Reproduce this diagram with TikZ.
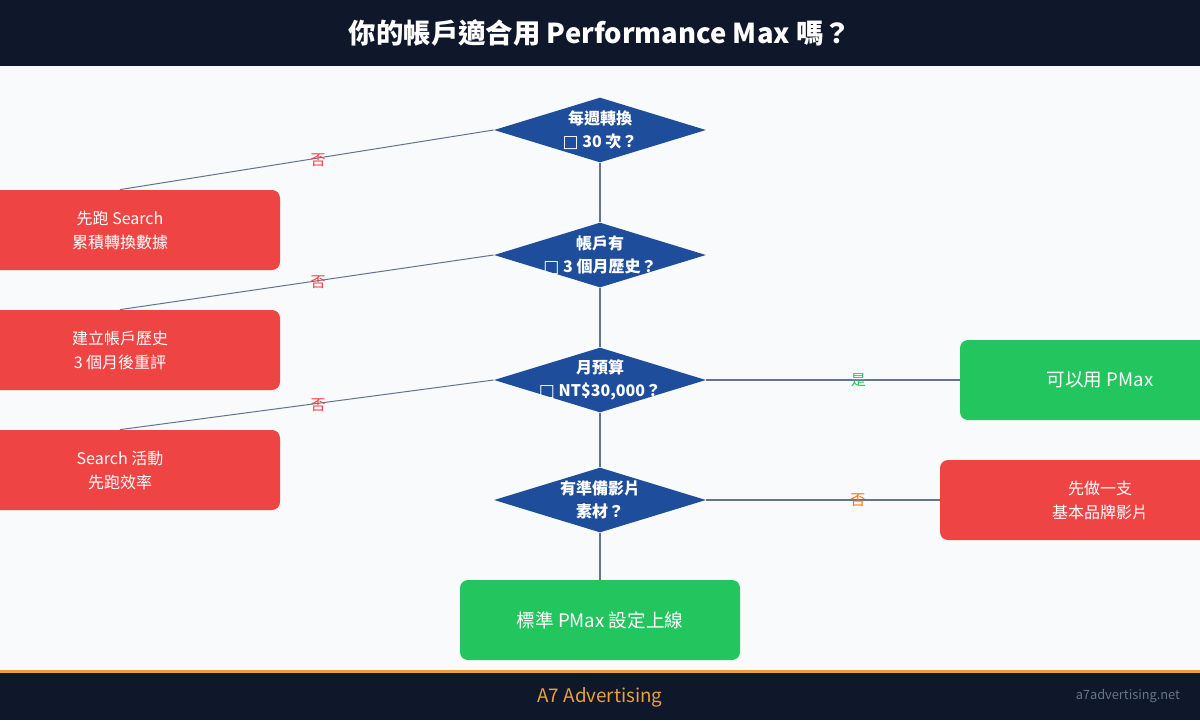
\documentclass[tikz,border=0pt]{standalone}
\usepackage{fontspec}
\setmainfont{Noto Sans CJK TC}
\newfontfamily\symfont{DejaVu Sans}
\usetikzlibrary{shapes.geometric, positioning}

\definecolor{navy}{HTML}{0F172A}
\definecolor{paper}{HTML}{F8FAFC}
\definecolor{qblue}{HTML}{1E4D9B}
\definecolor{nored}{HTML}{EF4444}
\definecolor{yesgreen}{HTML}{22C55E}
\definecolor{linegray}{HTML}{64748B}
\definecolor{gold}{HTML}{E9A23B}
\definecolor{tagorange}{HTML}{F97316}

\newcommand{\tofu}{{\symfont\fontsize{8.5}{8.5}\selectfont □}}

\begin{document}
\begin{tikzpicture}[x=0.5pt, y=-0.5pt,
    decision/.style={diamond, fill=qblue, inner sep=0pt, minimum width=106pt, minimum height=32.5pt},
    qtext/.style={text=white, font=\bfseries\fontsize{8}{11.5}\selectfont, align=center},
    outcome/.style={rounded corners=4pt, inner sep=0pt, minimum height=40pt, text=white,
        font=\fontsize{8}{12}\selectfont, align=center},
    stopbox/.style={outcome, fill=nored, minimum width=160pt},
    gobox/.style={outcome, fill=yesgreen, minimum width=140pt, font=\fontsize{9.3}{12}\selectfont},
    link/.style={draw=linegray, line width=1pt},
    slant/.style={draw=linegray, line width=0.5pt},
    branch/.style={font=\fontsize{7.5}{8}\selectfont, inner sep=0pt}
]

\clip (0,0) rectangle (1200,720);
\useasboundingbox (0,0) rectangle (1200,720);

% Page, header and footer
\fill[paper] (0,0) rectangle (1200,720);
\fill[navy] (0,0) rectangle (1200,66);
\node[text=white, font=\bfseries\fontsize{13.7}{15}\selectfont] (title) at (600,33)
    {你的帳戶適合用 Performance Max 嗎？};
\fill[gold] (0,670) rectangle (1200,673);
\fill[navy] (0,673) rectangle (1200,720);
\node[text=gold, font=\fontsize{9.4}{10}\selectfont] (brand) at (600,697) {A7 Advertising};
\node[text=linegray, font=\fontsize{6.4}{7}\selectfont, anchor=east] (site) at (1187,696) {a7advertising.net};

% Decisions
\node[decision, label={[qtext]center:每週轉換\\\tofu\ 30 次？}] (q1) at (600,130) {};
\node[decision, label={[qtext]center:帳戶有\\\tofu\ 3 個月歷史？}] (q2) at (600,255) {};
\node[decision, label={[qtext]center:月預算\\\tofu\ NT\$30,000？}] (q3) at (600,380) {};
\node[decision, label={[qtext]center:有準備影片\\素材？}] (q4) at (600,500) {};

% Left: not ready yet
\node[stopbox] (s1) at (120,230) {先跑 Search\\累積轉換數據};
\node[stopbox] (s2) at (120,350) {建立帳戶歷史\\3 個月後重評};
\node[stopbox] (s3) at (120,470) {Search 活動\\先跑效率};

% Right and bottom outcomes
\node[gobox] (pmax) at (1100,380) {可以用 PMax};
\node[stopbox] (video) at (1100,500) {先做一支\\基本品牌影片};
\node[gobox] (launch) at (600,620) {標準 PMax 設定上線};

% Main spine
\draw[link] (q1.south) -- (q2.north);
\draw[link] (q2.south) -- (q3.north);
\draw[link] (q3.south) -- (q4.north);
\draw[link] (q4.south) -- (launch.north);

% "No" branches to the left
\foreach \q/\s in {q1/s1, q2/s2, q3/s3} {
    \draw[slant] (\q.west) -- node[branch, text=nored, pos=0.47, yshift=-1pt] {否} (\s.north);
}

% Branches to the right
\draw[link] (q3.east) -- node[branch, text=yesgreen, pos=0.6] {是} (pmax.west);
\draw[link] (q4.east) -- node[branch, text=tagorange, pos=0.65] {否} (video.west);

\end{tikzpicture}
\end{document}
